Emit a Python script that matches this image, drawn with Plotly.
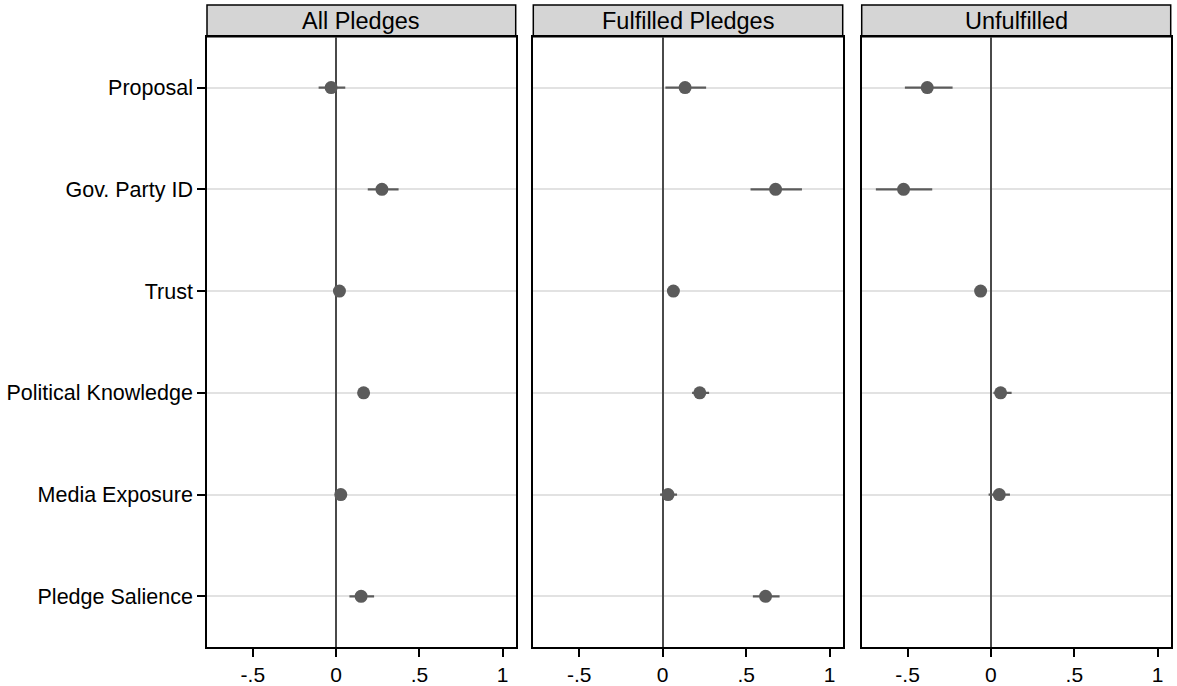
import plotly.graph_objects as go

# Coefficient plot: point estimates with confidence intervals, three panels
categories = ["Proposal", "Gov. Party ID", "Trust", "Political Knowledge",
              "Media Exposure", "Pledge Salience"]
panel_titles = ["All Pledges", "Fulfilled Pledges", "Unfulfilled"]

est_all = [-0.03, 0.275, 0.02, 0.165, 0.028, 0.15]
lo_all = [-0.105, 0.19, -0.005, 0.135, 0.0, 0.08]
hi_all = [0.055, 0.375, 0.045, 0.197, 0.056, 0.228]

est_ful = [0.134, 0.676, 0.064, 0.222, 0.032, 0.616]
lo_ful = [0.016, 0.526, 0.04, 0.176, -0.016, 0.54]
hi_ful = [0.26, 0.834, 0.09, 0.278, 0.086, 0.70]

est_unf = [-0.382, -0.524, -0.062, 0.058, 0.05, None]
lo_unf = [-0.516, -0.69, -0.09, 0.015, -0.014, None]
hi_unf = [-0.23, -0.352, -0.035, 0.124, 0.114, None]

x_tickvals = [-0.5, 0, 0.5, 1]
x_ticktext = ["-.5", "0", ".5", "1"]

W, H = 1177, 686
FONT = "Liberation Sans, Arial, Helvetica, sans-serif"
MARK = "#5b5b5b"

# panel geometry in pixels (left, right), shared plot top/bottom and strip top
panels_px = [(207, 515.7), (533.3, 842.7), (861.7, 1170.7)]
plot_top, plot_bottom, strip_top = 37, 652, 5

series = [(est_all, lo_all, hi_all), (est_ful, lo_ful, hi_ful),
          (est_unf, lo_unf, hi_unf)]

fig = go.Figure()
layout = dict(width=W, height=H, autosize=False,
              margin=dict(l=0, r=0, t=0, b=0),
              paper_bgcolor="white", plot_bgcolor="white",
              showlegend=False, font=dict(family=FONT, color="black"))
shapes, annotations = [], []

for i, ((est, lo, hi), (x0, x1), title) in enumerate(zip(series, panels_px, panel_titles)):
    n = "" if i == 0 else str(i + 1)
    plus = [None if e is None else h - e for e, h in zip(est, hi)]
    minus = [None if e is None else e - l for e, l in zip(est, lo)]
    fig.add_trace(go.Scatter(
        x=est, y=categories, mode="markers",
        xaxis="x" + n, yaxis="y" + n,
        marker=dict(size=13, color=MARK),
        error_x=dict(type="data", array=plus, arrayminus=minus,
                     symmetric=False, color=MARK, thickness=2.2, width=0),
        hoverinfo="x+y"))
    dom_x = [x0 / W, x1 / W]
    dom_y = [1 - plot_bottom / H, 1 - plot_top / H]
    layout["xaxis" + n] = dict(
        domain=dom_x, anchor="y" + n, range=[-0.775, 1.078],
        tickvals=x_tickvals, ticktext=x_ticktext, ticks="outside",
        ticklen=8, tickwidth=1.5, tickcolor="black",
        tickfont=dict(size=21, family=FONT, color="black"),
        showgrid=False, zeroline=True, zerolinecolor="#4a4a4a",
        zerolinewidth=2, showline=True, linecolor="black", linewidth=1.5,
        mirror=True)
    layout["yaxis" + n] = dict(
        domain=dom_y, anchor="x" + n, type="category",
        categoryorder="array", categoryarray=categories,
        range=[len(categories) - 0.5, -0.5],
        showgrid=True, gridcolor="#e2e2e2", gridwidth=2,
        showline=True, linecolor="black", linewidth=1.5, mirror=True,
        ticks="outside" if i == 0 else "", ticklen=8, tickwidth=1.5,
        tickcolor="black", showticklabels=(i == 0),
        tickfont=dict(size=21.5, family=FONT, color="black"))
    # strip header above each panel
    shapes.append(dict(type="rect", xref="paper", yref="paper",
                       x0=dom_x[0], x1=dom_x[1], y0=dom_y[1], y1=1 - strip_top / H,
                       fillcolor="#d5d5d5", line=dict(color="black", width=1.5),
                       layer="below"))
    annotations.append(dict(text=title, xref="paper", yref="paper",
                            x=(dom_x[0] + dom_x[1]) / 2,
                            y=(dom_y[1] + 1 - strip_top / H) / 2,
                            xanchor="center", yanchor="middle", showarrow=False,
                            font=dict(size=23.5, family=FONT, color="black")))

layout["shapes"] = shapes
layout["annotations"] = annotations
fig.update_layout(**layout)
fig.write_html("out.html")
